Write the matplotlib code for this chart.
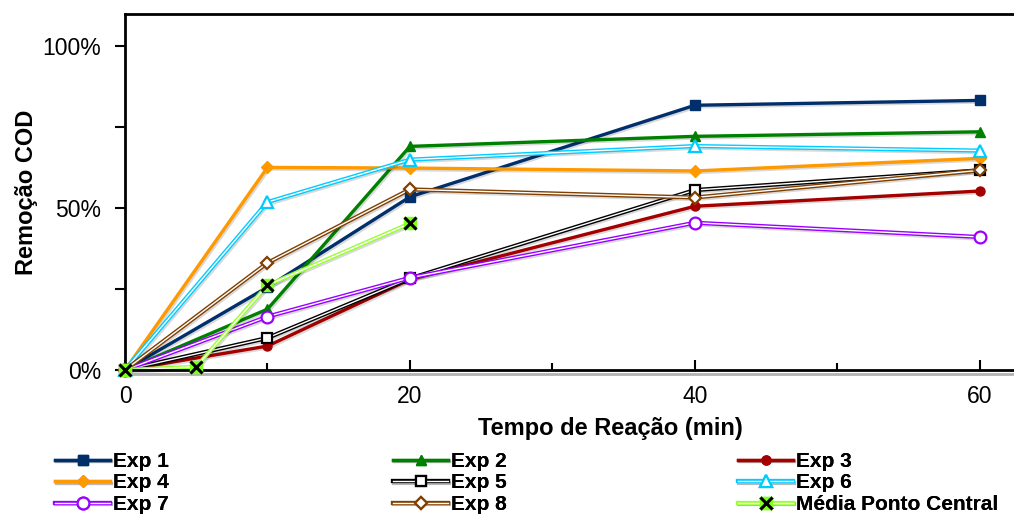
import matplotlib
matplotlib.use("Agg")
import matplotlib.pyplot as plt
import matplotlib.patheffects as pe
from matplotlib.ticker import MultipleLocator, FuncFormatter

plt.rcParams['font.family'] = ['Liberation Sans', 'DejaVu Sans']

# dados
tempo = [0, 10, 20, 40, 60]
tempo_pc = [0, 5, 10, 20]

exp1 = [0, 0.256, 0.535, 0.818, 0.833]
exp2 = [0, 0.188, 0.691, 0.722, 0.736]
exp3 = [0, 0.074, 0.280, 0.506, 0.553]
exp4 = [0, 0.626, 0.624, 0.615, 0.654]
exp5 = [0, 0.099, 0.283, 0.556, 0.617]
exp6 = [0, 0.519, 0.650, 0.692, 0.678]
exp7 = [0, 0.165, 0.285, 0.455, 0.411]
exp8 = [0, 0.331, 0.558, 0.533, 0.617]
media_pc = [0, 0.010, 0.262, 0.453]

nomes = ['Exp 1', 'Exp 2', 'Exp 3', 'Exp 4', 'Exp 5', 'Exp 6', 'Exp 7', 'Exp 8',
         'Média Ponto Central']

# (cor, marcador, cheio?, linha dupla?)
estilos = [
    ('#002F6C', 's', True, False),
    ('#008000', '^', True, False),
    ('#A50000', 'o', True, False),
    ('#FF9900', 'D', True, False),
    ('#000000', 's', False, True),
    ('#00CCFF', '^', False, True),
    ('#9900FF', 'o', False, True),
    ('#7F3F00', 'D', False, True),
]
msizes = {'s': 6.5, '^': 7.5, 'o': 6.5, 'D': 6.5}
msizes_aberto = {'s': 7.5, '^': 8, 'o': 8.5, 'D': 6.5}

fig = plt.figure(figsize=(10.14, 5.18), dpi=100)
ax = fig.add_axes([125/1014, 1 - 370/518, 1 - 125/1014, 356/518])

sombra = [pe.SimpleLineShadow(offset=(1, -1.2), alpha=0.15), pe.Normal()]

handles = []
series = [exp1, exp2, exp3, exp4, exp5, exp6, exp7, exp8]
for y, (cor, mk, cheio, dupla) in zip(series, estilos):
    if dupla:
        l1, = ax.plot(tempo, y, color=cor, lw=3.0, clip_on=False, path_effects=sombra)
        l2, = ax.plot(tempo, y, color='white', lw=1.0, clip_on=False)
        m, = ax.plot(tempo, y, ls='none', marker=mk, ms=msizes_aberto[mk], mfc='white',
                     mec=cor, mew=1.6, clip_on=False, zorder=3)
        handles.append((l1, l2, m))
    else:
        l1, = ax.plot(tempo, y, color=cor, lw=2.4, clip_on=False, path_effects=sombra)
        m, = ax.plot(tempo, y, ls='none', marker=mk, ms=msizes[mk], mfc=cor,
                     mec=cor, clip_on=False, zorder=3)
        handles.append((l1, m))

# media ponto central
cor_pc = '#99FF33'
l1, = ax.plot(tempo_pc, media_pc, color=cor_pc, lw=3.0, clip_on=False, path_effects=sombra)
l2, = ax.plot(tempo_pc, media_pc, color='white', lw=1.0, clip_on=False)
m1, = ax.plot(tempo_pc, media_pc, ls='none', marker='s', ms=8, mfc='#80FF20',
              mec='#80FF20', clip_on=False, zorder=3)
m2, = ax.plot(tempo_pc, media_pc, ls='none', marker='x', ms=8, mec='black',
              mew=2.2, clip_on=False, zorder=4)
handles.append((l1, l2, m1, m2))

ax.set_xlim(0, 62.4)
ax.set_ylim(0, 1.1)
ax.xaxis.set_major_locator(MultipleLocator(20))
ax.xaxis.set_minor_locator(MultipleLocator(10))
ax.yaxis.set_major_locator(MultipleLocator(0.5))
ax.yaxis.set_minor_locator(MultipleLocator(0.25))
ax.yaxis.set_major_formatter(FuncFormatter(lambda v, p: f'{v*100:.0f}%'))

ax.tick_params(axis='x', which='both', direction='in', labelsize=16.5, pad=11, width=1.5)
ax.tick_params(axis='x', which='major', length=7)
ax.tick_params(axis='x', which='minor', length=5)
ax.tick_params(axis='y', which='both', direction='out', labelsize=16.5, pad=10, width=1.5, length=7)

for s in ['left', 'top', 'bottom']:
    ax.spines[s].set_linewidth(2)
ax.spines['right'].set_visible(False)
ax.spines['bottom'].set_path_effects(
    [pe.SimpleLineShadow(offset=(1, -3), alpha=0.3), pe.Normal()])

ax.set_xlabel('Tempo de Reação (min)', fontsize=17, fontweight='bold', va='center')
ax.xaxis.set_label_coords((610 - 125) / 889, (370 - 429) / 356)
ax.set_ylabel('Remoção COD', fontsize=17, fontweight='bold', va='center')
ax.yaxis.set_label_coords((27 - 125) / 889, 0.5)

# legenda em 3 colunas
colunas_x = [55 / 1014, 393 / 1014, 738 / 1014]
for c in range(3):
    idx = [c, c + 3, c + 6]
    leg = fig.legend([handles[i] for i in idx], [nomes[i] for i in idx],
                     loc='center left', bbox_to_anchor=(colunas_x[c], 1 - 483 / 518),
                     frameon=False, prop={'weight': 'bold', 'size': 15},
                     handlelength=2.64, handletextpad=0.15, labelspacing=0.12,
                     borderpad=0, borderaxespad=0)
    fig.add_artist(leg)

fig.savefig('out.png', dpi=100)
